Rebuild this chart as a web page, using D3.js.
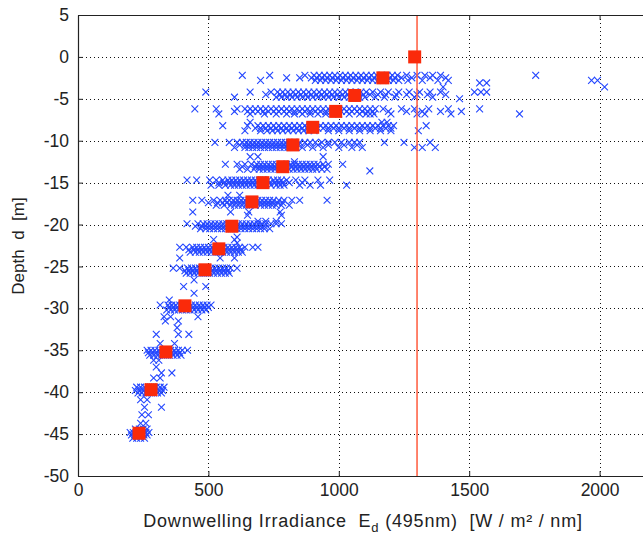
<!DOCTYPE html>
<html>
<head>
<meta charset="utf-8">
<script src="https://cdn.jsdelivr.net/npm/d3@7"></script>
<style>
  html, body { margin: 0; padding: 0; background: #fff; }
  svg { display: block; font-family: Arial, 'Liberation Sans', sans-serif; }
  .axis text { font-size: 17.5px; fill: #222; }
  .axis path, .axis line { stroke: #222; }
  .label { white-space: pre; }
</style>
</head>
<body>
<svg id="chart" width="643" height="536"></svg>
<script>
// depth bins (m) and the Ed readings (W/m²/nm) seen at each one
const rowDepth = [
  -2.2, -2.5, -2.8, -3.1, -3.6,
  -4.2, -4.5, -4.8, -5.0,
  -6.2, -6.5, -6.8, -7.8,
  -8.2, -8.5, -8.8,
  -10.2, -10.5, -10.8, -11.9, -12.5,
  -12.8, -13.1, -13.4, -13.6,
  -14.7, -15.0, -15.3, -16.5,
  -17.1, -17.4, -17.7, -18.5, -18.9, -19.6,
  -19.9, -20.2, -20.5, -21.5, -21.8, -22.2,
  -22.7, -23.0, -23.3, -24.0,
  -25.2, -25.5, -25.8, -26.6, -27.4, -28.2, -29.0,
  -29.6, -29.9, -30.2, -31.0, -31.5, -32.3, -33.1, -34.2,
  -35.0, -35.3, -35.6, -36.2, -37.0, -37.7, -38.3,
  -39.4, -39.8, -40.1, -40.9, -41.8, -42.7, -43.7,
  -44.4, -44.8, -45.1, -45.5
];
const rowEd = [
  [630, 735, 870, 905, 925, 945, 965, 985, 1005, 1025, 1045, 1065, 1085, 1105, 1125, 1145, 1165, 1185, 1205, 1225, 1260, 1300, 1330, 1360, 1390, 1755],
  [800, 850, 895, 915, 935, 955, 975, 995, 1015, 1035, 1055, 1075, 1095, 1115, 1135, 1155, 1175, 1195, 1215, 1240, 1280, 1350, 1410],
  [700, 910, 930, 950, 970, 990, 1010, 1030, 1050, 1070, 1090, 1110, 1130, 1150, 1170, 1190, 1210, 1230, 1265, 1320, 1380, 1420, 1969, 1992],
  [1540, 1567],
  [1400, 2019],
  [490, 660, 740, 765, 785, 805, 825, 845, 865, 885, 905, 925, 945, 965, 985, 1005, 1025, 1045, 1065, 1085, 1105, 1130, 1160, 1190, 1230, 1270, 1310, 1350, 1390, 1520, 1545, 1567],
  [720, 775, 795, 815, 835, 855, 875, 895, 915, 935, 955, 975, 995, 1015, 1035, 1055, 1075, 1095, 1120, 1150, 1180, 1220, 1260, 1300, 1340, 1410],
  [600, 760, 780, 800, 820, 840, 860, 880, 900, 920, 940, 960, 980, 1000, 1020, 1040, 1060, 1080, 1100, 1140, 1175, 1215, 1290, 1360],
  [1463],
  [448, 530, 610, 640, 660, 680, 700, 720, 740, 760, 780, 800, 820, 840, 860, 880, 900, 920, 940, 960, 980, 1000, 1020, 1040, 1060, 1080, 1100, 1120, 1140, 1170, 1240, 1290, 1345, 1420, 1540],
  [600, 650, 670, 690, 710, 730, 750, 770, 790, 810, 830, 850, 870, 890, 910, 930, 950, 970, 990, 1010, 1030, 1050, 1070, 1090, 1110, 1130, 1190, 1260, 1320, 1390, 1470],
  [540, 660, 715, 760, 800, 830, 860, 890, 920, 950, 1000, 1040, 1080, 1105, 1120, 1135, 1200, 1300, 1330, 1430, 1693],
  [660, 1165, 1185],
  [555, 650, 690, 710, 730, 750, 770, 790, 810, 830, 850, 870, 890, 910, 930, 950, 970, 990, 1010, 1030, 1050, 1070, 1090, 1110, 1130, 1150, 1170, 1190, 1210, 1335],
  [680, 700, 720, 740, 760, 780, 800, 820, 840, 860, 880, 920, 940, 960, 980, 1000, 1020, 1040, 1060, 1080, 1100, 1120, 1140, 1160, 1180, 1200],
  [640, 700, 725, 745, 765, 785, 805, 825, 845, 865, 885, 905, 960, 1000, 1040, 1080, 1120, 1160, 1200, 1305],
  [525, 580, 610, 630, 645, 660, 675, 690, 705, 720, 735, 750, 765, 780, 795, 810, 830, 850, 870, 890, 910, 935, 960, 985, 1010, 1040, 1060, 1080, 1175, 1250, 1350],
  [620, 640, 655, 670, 685, 700, 715, 730, 745, 760, 775, 790, 805, 820, 845, 880, 920, 960, 1020, 1070],
  [600, 640, 655, 670, 685, 700, 715, 730, 745, 760, 775, 790, 805, 860, 900, 940, 1000, 1050, 1090, 1290, 1320, 1370],
  [660, 690, 940],
  [830],
  [565, 610, 640, 665, 685, 700, 715, 730, 745, 760, 780, 800, 815, 830, 845, 860, 875, 890, 905, 920, 940, 960, 1015],
  [630, 680, 695, 710, 725, 740, 755, 770, 785, 800, 820, 835, 850, 865, 880, 895, 910, 925, 945],
  [620, 650, 675, 695, 710, 725, 740, 755, 770, 790, 810, 825, 840, 855, 870, 885, 900, 915, 935, 955],
  [1119],
  [418, 455, 505, 530, 555, 575, 590, 605, 620, 635, 650, 665, 680, 695, 710, 730, 750, 765, 780, 800, 835, 870, 920, 965],
  [540, 560, 580, 595, 610, 625, 640, 655, 670, 685, 700, 715, 735, 755, 770, 785, 810, 860],
  [510, 540, 565, 585, 600, 615, 630, 645, 660, 675, 690, 705, 720, 740, 760, 775, 790, 850, 890, 930, 1030],
  [575, 620],
  [440, 475, 520, 545, 565, 580, 595, 610, 625, 640, 655, 670, 690, 705, 720, 735, 750, 770, 790, 820, 850, 955],
  [500, 535, 555, 570, 590, 605, 620, 635, 650, 665, 685, 700, 715, 730, 745, 765, 785],
  [530, 560, 585, 600, 615, 630, 645, 660, 680, 700, 715, 730, 745, 760, 780, 810],
  [440, 585, 655, 775],
  [650, 780],
  [690, 720, 760],
  [418, 460, 480, 495, 510, 525, 540, 555, 570, 585, 600, 615, 630, 645, 660, 675, 690, 705, 720, 740, 760, 780],
  [450, 475, 490, 505, 520, 535, 550, 565, 580, 595, 610, 625, 640, 655, 670, 685, 700, 715],
  [470, 490, 505, 520, 535, 550, 565, 580, 595, 610, 625, 640, 655, 670, 685, 700, 715, 735],
  [610],
  [520, 600],
  [610],
  [390, 415, 440, 455, 470, 485, 500, 515, 530, 545, 560, 575, 590, 605, 620, 640, 670, 690],
  [425, 445, 460, 475, 490, 505, 520, 535, 550, 565, 580, 595, 610, 625],
  [430, 450, 465, 480, 495, 510, 525, 540, 555, 570, 585, 600, 615, 630],
  [390, 545, 600],
  [365, 390, 420, 435, 450, 465, 480, 495, 510, 525, 540, 555, 570, 585, 610],
  [410, 425, 440, 455, 470, 485, 500, 515, 530, 545, 560, 575],
  [415, 430, 445, 460, 475, 490, 505, 520, 535, 550, 565, 580],
  [445],
  [405, 490],
  [445],
  [350],
  [315, 345, 360, 375, 390, 405, 420, 435, 450, 465, 480, 495, 510],
  [350, 365, 380, 395, 410, 425, 440, 455, 470, 485, 500],
  [340, 355, 370, 385, 400, 415, 430, 445, 460, 475, 490],
  [330, 355, 460],
  [335, 385],
  [380],
  [300, 385, 425],
  [315, 370],
  [265, 280, 295, 310, 325, 340, 355, 370, 385, 400, 420],
  [270, 285, 300, 315, 330, 345, 360, 375, 390],
  [275, 290, 305, 320, 335, 350, 365, 380, 395],
  [290, 310],
  [300],
  [320, 360],
  [290, 315],
  [225, 240, 255, 270, 285, 300, 315, 330],
  [220, 235, 250, 265, 280, 295, 310, 325],
  [230, 245, 260, 275, 290, 305, 320],
  [240, 265],
  [255, 320],
  [245, 270],
  [240, 260],
  [220, 235, 250, 265],
  [200, 212, 224, 236, 248, 260, 272],
  [205, 217, 229, 241, 253, 265],
  [210, 225, 240, 255]
];

// mean profile (red squares)
const meanDepth = [0, -2.5, -4.6, -6.5, -8.4, -10.5, -13.1, -15.0, -17.3, -20.2, -22.9, -25.4, -29.7, -35.2, -39.7, -44.9];
const meanEd = [1291, 1169, 1061, 988, 900, 824, 785, 709, 667, 590, 540, 487, 410, 337, 280, 234];

const surfaceEd = 1300;

const xTicks = [0, 500, 1000, 1500, 2000, 2500];
const yTicks = [5, 0, -5, -10, -15, -20, -25, -30, -35, -40, -45, -50];

const margin = { top: 15, left: 78 };
const plotH = 461;
const plotW = 652;

const svg = d3.select('#chart');

const xScale = d3.scaleLinear()
  .domain([0, 2500])
  .range([margin.left, margin.left + plotW]);
const yScale = d3.scaleLinear()
  .domain([-50, 5])
  .range([margin.top + plotH, margin.top]);

svg.append('clipPath').attr('id', 'plot-clip')
  .append('rect')
  .attr('x', margin.left)
  .attr('y', margin.top)
  .attr('width', plotW)
  .attr('height', plotH);

// dotted grid
const grid = svg.append('g').attr('class', 'grid');
grid.selectAll('.gx')
  .data(xTicks.filter(d => d > 0 && d < 2500))
  .enter()
  .append('line')
  .attr('x1', d => Math.round(xScale(d)) + 0.5)
  .attr('x2', d => Math.round(xScale(d)) + 0.5)
  .attr('y1', margin.top)
  .attr('y2', margin.top + plotH)
  .attr('stroke', '#111')
  .attr('stroke-dasharray', '1,3');
grid.selectAll('.gy')
  .data(yTicks.filter(d => d > -50 && d < 5))
  .enter()
  .append('line')
  .attr('x1', margin.left)
  .attr('x2', margin.left + plotW)
  .attr('y1', d => Math.round(yScale(d)) + 0.5)
  .attr('y2', d => Math.round(yScale(d)) + 0.5)
  .attr('stroke', '#111')
  .attr('stroke-dasharray', '1,3');

const plot = svg.append('g').attr('clip-path', 'url(#plot-clip)');

// individual casts: blue x markers
const samples = rowDepth.flatMap((dep, i) => rowEd[i].map(ed => [ed, dep]));
const s = 3.4;
plot.append('g').selectAll('path')
  .data(samples)
  .enter()
  .append('path')
  .attr('d', d => {
    const cx = xScale(d[0]);
    const cy = yScale(d[1]);
    return `M${cx - s},${cy - s}L${cx + s},${cy + s}M${cx - s},${cy + s}L${cx + s},${cy - s}`;
  })
  .attr('fill', 'none')
  .attr('stroke', '#2447ff')
  .attr('stroke-width', 1.1);

// surface irradiance line
plot.append('line')
  .attr('x1', xScale(surfaceEd))
  .attr('x2', xScale(surfaceEd))
  .attr('y1', margin.top)
  .attr('y2', margin.top + plotH)
  .attr('stroke', '#ff5a3c')
  .attr('stroke-width', 1.5);

// mean profile squares
plot.append('g').selectAll('rect')
  .data(meanEd.map((ed, i) => [ed, meanDepth[i]]))
  .enter()
  .append('rect')
  .attr('x', d => xScale(d[0]) - 6.5)
  .attr('y', d => yScale(d[1]) - 6.5)
  .attr('width', 13)
  .attr('height', 13)
  .attr('fill', '#fa2a0a');

// axes with inward ticks
const fmt = d => String(d);
svg.append('g')
  .attr('class', 'axis x-axis')
  .attr('transform', `translate(0, ${margin.top + plotH})`)
  .call(d3.axisBottom(xScale).tickValues(xTicks.slice(0, 5)).tickFormat(fmt).tickSizeInner(-5).tickSizeOuter(0).tickPadding(8));
svg.append('g')
  .attr('class', 'axis x-top')
  .attr('transform', `translate(0, ${margin.top})`)
  .call(d3.axisTop(xScale).tickValues(xTicks.slice(0, 5)).tickSizeInner(-5).tickSizeOuter(0).tickFormat(''));
svg.append('g')
  .attr('class', 'axis y-axis')
  .attr('transform', `translate(${margin.left}, 0)`)
  .call(d3.axisLeft(yScale).tickValues(yTicks).tickFormat(fmt).tickSizeInner(-5).tickSizeOuter(0).tickPadding(9));

svg.selectAll('.axis .domain').attr('stroke-width', 1.2);

// axis labels
const xl = svg.append('text')
  .attr('class', 'label')
  .attr('x', 363)
  .attr('y', 527)
  .attr('text-anchor', 'middle')
  .attr('font-size', 18)
  .attr('letter-spacing', 0.8)
  .attr('fill', '#222');
xl.append('tspan').text('Downwelling Irradiance  E');
xl.append('tspan').attr('dy', 5).attr('font-size', 13).text('d');
xl.append('tspan').attr('dy', -5).text(' (495nm)  [W / m² / nm]');

svg.append('text')
  .attr('class', 'label')
  .attr('transform', 'translate(24, 246) rotate(-90)')
  .attr('text-anchor', 'middle')
  .attr('font-size', 17)
  .attr('fill', '#222')
  .text('Depth  d  [m]');
</script>
</body>
</html>
